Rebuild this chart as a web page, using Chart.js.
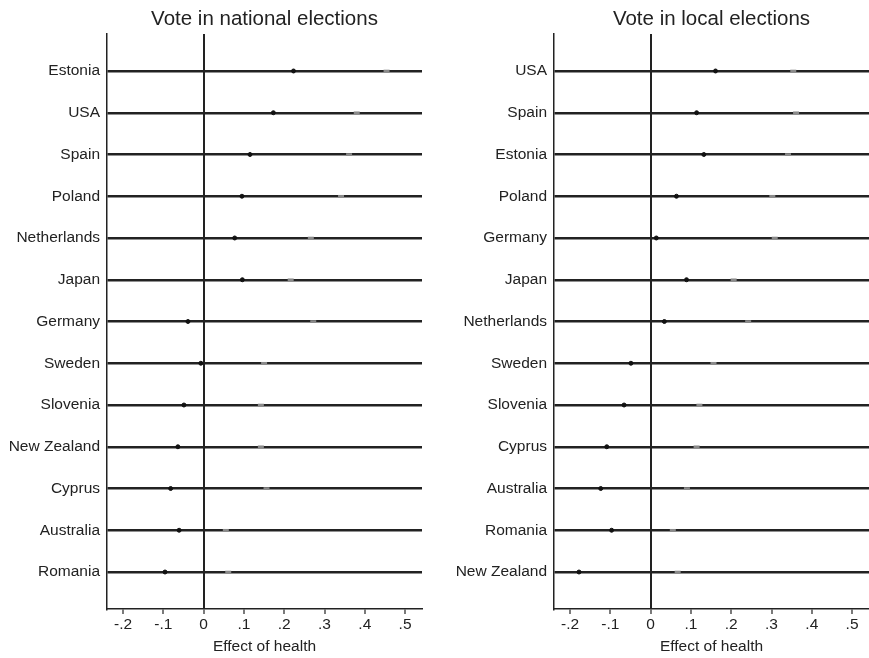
<!DOCTYPE html>
<html>
<head>
<meta charset="utf-8">
<script src="https://cdn.jsdelivr.net/npm/chart.js@4"></script>
<style>
  body { margin: 0; background: #fff; }
  #wrap { position: relative; width: 869px; height: 658px; }
  canvas { position: absolute; top: 0; }
</style>
</head>
<body>
<div id="wrap">
  <canvas id="nacional" width="434" height="658" style="left:0"></canvas>
  <canvas id="local" width="435" height="658" style="left:434px"></canvas>
</div>
<script>
// vote in national elections (top to bottom)
const nationalCountries = ['Estonia', 'USA', 'Spain', 'Poland', 'Netherlands', 'Japan', 'Germany',
  'Sweden', 'Slovenia', 'New Zealand', 'Cyprus', 'Australia', 'Romania'];
const nationalEffect = [0.223, 0.173, 0.115, 0.095, 0.077, 0.096, -0.039, -0.007, -0.049, -0.064, -0.082, -0.061, -0.096];
const nationalMark = [0.454, 0.380, 0.361, 0.341, 0.266, 0.216, 0.272, 0.150, 0.142, 0.142, 0.156, 0.055, 0.061];

// vote in local elections (top to bottom)
const localCountries = ['USA', 'Spain', 'Estonia', 'Poland', 'Germany', 'Japan', 'Netherlands',
  'Sweden', 'Slovenia', 'Cyprus', 'Australia', 'Romania', 'New Zealand'];
const localEffect = [0.161, 0.114, 0.132, 0.064, 0.014, 0.089, 0.034, -0.049, -0.066, -0.109, -0.124, -0.097, -0.178];
const localMark = [0.354, 0.361, 0.341, 0.302, 0.308, 0.206, 0.242, 0.156, 0.121, 0.114, 0.090, 0.055, 0.067];

const xTickValues = [-0.2, -0.1, 0, 0.1, 0.2, 0.3, 0.4, 0.5];
const xTickLabels = ['-.2', '-.1', '0', '.1', '.2', '.3', '.4', '.5'];
const xMin = -0.24;
const xMax = 0.542;

const fuente = '"Liberation Sans", Arial, sans-serif';
const tinta = '#222';

// title centred over the plot area
const tituloPanel = {
  id: 'tituloPanel',
  afterDraw(chart, args, opts) {
    const { ctx, chartArea } = chart;
    ctx.save();
    ctx.font = '20.5px ' + fuente;
    ctx.fillStyle = tinta;
    ctx.textAlign = 'center';
    ctx.textBaseline = 'alphabetic';
    ctx.fillText(opts.text, (chartArea.left + chartArea.right) / 2, 25);
    ctx.restore();
  }
};

function crearPanel(id, titulo, paises, efecto, marca, anchoEje, derecha) {
  const puntos = efecto.map((v, i) => ({ x: v, y: i + 1 }));
  const marcas = marca.map((v, i) => ({ x: v, y: i + 1 }));

  new Chart(document.getElementById(id), {
    type: 'scatter',
    data: {
      datasets: [{
        data: puntos,
        backgroundColor: '#111',
        borderColor: '#111',
        pointRadius: 2,
        pointHoverRadius: 2
      }, {
        data: marcas,
        pointStyle: 'line',
        borderColor: '#8a8a8a',
        borderWidth: 2.6,
        pointRadius: 3,
        pointHoverRadius: 3
      }]
    },
    options: {
      responsive: false,
      animation: false,
      events: [],
      layout: { autoPadding: false, padding: { top: 34, right: derecha, left: 0, bottom: 0 } },
      plugins: {
        legend: { display: false },
        tooltip: { enabled: false },
        tituloPanel: { text: titulo }
      },
      scales: {
        x: {
          type: 'linear',
          min: xMin,
          max: xMax,
          afterBuildTicks: s => { s.ticks = xTickValues.map(v => ({ value: v })); },
          afterFit: s => {
            s.height = 49;
            s.paddingLeft = 0;
            s.paddingRight = 0;
          },
          ticks: {
            color: tinta,
            font: { family: fuente, size: 15.5 },
            padding: 1,
            maxRotation: 0,
            callback: (v, i) => xTickLabels[i]
          },
          grid: {
            color: c => (c.tick && c.tick.value === 0 ? tinta : 'rgba(0,0,0,0)'),
            lineWidth: 2,
            tickColor: '#333',
            tickWidth: 1.3,
            tickLength: 5
          },
          border: { display: true, color: tinta, width: 1.5 },
          title: {
            display: true,
            text: 'Effect of health',
            color: tinta,
            font: { family: fuente, size: 15.5 },
            padding: { top: 0, bottom: 2 }
          }
        },
        y: {
          type: 'linear',
          reverse: true,
          min: 0.114,
          max: paises.length + 0.886,
          afterBuildTicks: s => { s.ticks = paises.map((p, i) => ({ value: i + 1 })); },
          afterFit: s => { s.width = anchoEje; },
          ticks: {
            color: tinta,
            font: { family: fuente, size: 15.5 },
            padding: 7,
            callback: (v, i) => paises[i]
          },
          grid: {
            color: tinta,
            lineWidth: 2.4,
            drawTicks: false
          },
          border: { display: true, color: tinta, width: 1.5 }
        }
      }
    },
    plugins: [tituloPanel]
  });
}

crearPanel('nacional', 'Vote in national elections', nationalCountries, nationalEffect, nationalMark, 107, 12);
crearPanel('local', 'Vote in local elections', localCountries, localEffect, localMark, 120, 0);
</script>
</body>
</html>
